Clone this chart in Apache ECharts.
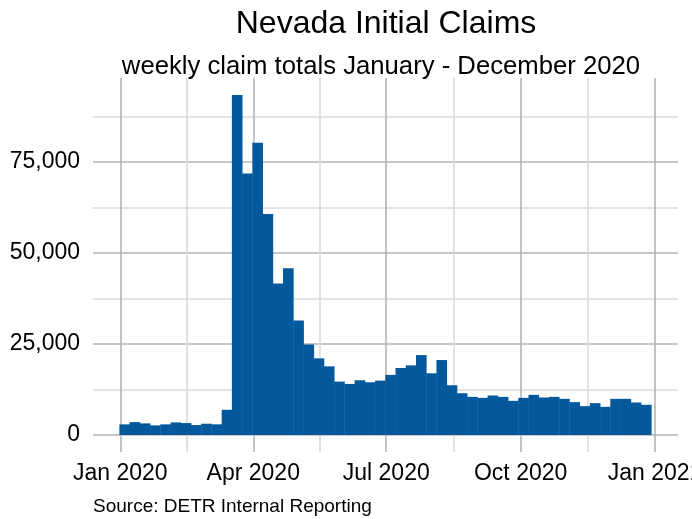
<!DOCTYPE html>
<html>
<head>
<meta charset="utf-8">
<script src="https://cdn.jsdelivr.net/npm/echarts@6/dist/echarts.min.js"></script>
<style>html,body{margin:0;padding:0;background:#fff;}#chart{width:692px;height:519px;}</style>
</head>
<body>
<div id="chart"></div>
<script>
// Week-ending dates (Saturdays) of 2020
var weekEnding = [
  '2020-01-04','2020-01-11','2020-01-18','2020-01-25',
  '2020-02-01','2020-02-08','2020-02-15','2020-02-22','2020-02-29',
  '2020-03-07','2020-03-14','2020-03-21','2020-03-28',
  '2020-04-04','2020-04-11','2020-04-18','2020-04-25',
  '2020-05-02','2020-05-09','2020-05-16','2020-05-23','2020-05-30',
  '2020-06-06','2020-06-13','2020-06-20','2020-06-27',
  '2020-07-04','2020-07-11','2020-07-18','2020-07-25',
  '2020-08-01','2020-08-08','2020-08-15','2020-08-22','2020-08-29',
  '2020-09-05','2020-09-12','2020-09-19','2020-09-26',
  '2020-10-03','2020-10-10','2020-10-17','2020-10-24','2020-10-31',
  '2020-11-07','2020-11-14','2020-11-21','2020-11-28',
  '2020-12-05','2020-12-12','2020-12-19','2020-12-26'
];
// Weekly initial claims
var claims = [
  2920, 3550, 3190, 2640,
  2920, 3460, 3280, 2730, 3100,
  2920, 6920, 93350, 71770,
  80240, 60650, 41620, 45810,
  31420, 24860, 21040, 18850, 14660,
  14020, 15030, 14480, 14930,
  16500, 18390, 19120, 21940,
  16940, 20580, 13660, 11470, 10470,
  10200, 10840, 10470, 9380,
  10200, 11020, 10290, 10470, 9930,
  9020, 7920, 8740, 7740,
  9930, 9930, 8930, 8290
];
// Axis breaks
var xMajorDates = ['2020-01-01','2020-04-01','2020-07-01','2020-10-01','2021-01-01'];
var xMajorLabels = ['Jan 2020','Apr 2020','Jul 2020','Oct 2020','Jan 2021'];
var yMajorTicks = [0, 25000, 50000, 75000];
var yMajorLabels = ['0','25,000','50,000','75,000'];

var DAY = 86400000;
function ts(s){ var p = s.split('-'); return Date.UTC(+p[0], +p[1]-1, +p[2]); }
var xMajor = xMajorDates.map(ts);
// minor breaks halfway between major breaks, merged alternately
var xTicks = [];
for (var i = 0; i < xMajor.length; i++) {
  xTicks.push(xMajor[i]);
  if (i < xMajor.length - 1) xTicks.push((xMajor[i] + xMajor[i+1]) / 2);
}
var yTicks = [];
for (var j = 0; j < yMajorTicks.length; j++) {
  yTicks.push(yMajorTicks[j]);
  yTicks.push(yMajorTicks[j] + 12500);
}
// ggplot-like 5% expansion
var xLo = ts(weekEnding[0]) - 3.5*DAY, xHi = ts(weekEnding[weekEnding.length-1]) + 3.5*DAY;
var xPad = (xHi - xLo) * 0.05;
var yMax = Math.max.apply(null, claims);
var yPad = yMax * 0.05;

var barData = weekEnding.map(function(d, k){ return [ts(d), claims[k]]; });

var FONT = 'Liberation Sans, Arial, sans-serif';
var MAJOR = '#b4b4b4', MINOR = '#dadada';
var BAR = '#03599c';

var chart = echarts.init(document.getElementById('chart'), null, {renderer: 'canvas'});
chart.setOption({
  animation: false,
  backgroundColor: '#ffffff',
  title: [
    {text: 'Nevada Initial Claims', left: 386, top: 8, textAlign: 'center', padding: 0,
     textStyle: {fontFamily: FONT, fontSize: 32, fontWeight: 'normal', color: '#000'}},
    {text: 'weekly claim totals January - December 2020', left: 381, top: 54, textAlign: 'center', padding: 0,
     textStyle: {fontFamily: FONT, fontSize: 25.7, fontWeight: 'normal', color: '#000'}},
    {text: 'Source: DETR Internal Reporting', left: 93, top: 497, padding: 0,
     textStyle: {fontFamily: FONT, fontSize: 19, fontWeight: 'normal', color: '#000'}}
  ],
  grid: {left: 93, right: 14, top: 78, bottom: 67, outerBoundsMode: 'none', containLabel: false},
  xAxis: {
    type: 'value',
    min: xLo - xPad,
    max: xHi + xPad,
    axisLine: {show: false},
    axisTick: {show: false, customValues: xTicks},
    axisLabel: {
      customValues: xMajor,
      margin: 10,
      hideOverlap: false,
      fontFamily: FONT, fontSize: 23, color: '#000',
      formatter: function(v){ var k = xMajor.indexOf(v); return k >= 0 ? xMajorLabels[k] : ''; }
    },
    splitLine: {show: true, lineStyle: {color: [MAJOR, MINOR], width: 1.6}}
  },
  yAxis: {
    type: 'value',
    min: -yPad,
    max: yMax + yPad,
    axisLine: {show: false},
    axisTick: {show: false, customValues: yTicks},
    axisLabel: {
      customValues: yMajorTicks,
      margin: 13,
      fontFamily: FONT, fontSize: 23, color: '#000',
      formatter: function(v){ var k = yMajorTicks.indexOf(v); return k >= 0 ? yMajorLabels[k] : ''; }
    },
    splitLine: {show: true, lineStyle: {color: [MAJOR, MINOR], width: 1.6}}
  },
  series: [{
    type: 'bar',
    data: barData,
    barWidth: '104%',
    itemStyle: {color: BAR},
    silent: true
  }]
});
</script>
</body>
</html>
